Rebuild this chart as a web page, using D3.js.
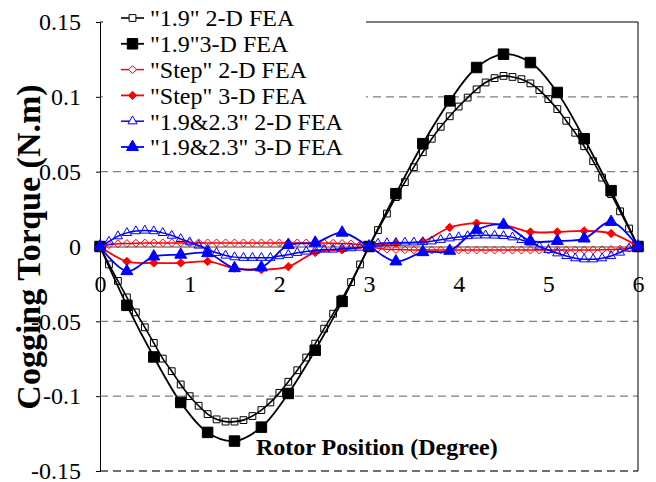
<!DOCTYPE html>
<html>
<head>
<meta charset="utf-8">
<title>Cogging torque</title>
<script src="https://d3js.org/d3.v7.min.js"></script>
<style>
  body { margin: 0; background: #fff; }
  svg text { font-family: "Liberation Serif", "Times New Roman", serif; fill: #000; }
  .tick text { font-size: 24px; }
  .axis-title { font-weight: bold; }
  .legend text { font-size: 24px; }
</style>
</head>
<body>
<div id="chart"></div>
<script>
// rotor position (degree)
const pos2D = [0,0.1,0.2,0.3,0.4,0.5,0.6,0.7,0.8,0.9,1,1.1,1.2,1.3,1.4,1.5,1.6,1.7,1.8,1.9,2,
  2.1,2.2,2.3,2.4,2.5,2.6,2.7,2.8,2.9,3,3.1,3.2,3.3,3.4,3.5,3.6,3.7,3.8,3.9,4,
  4.1,4.2,4.3,4.4,4.5,4.6,4.7,4.8,4.9,5,5.1,5.2,5.3,5.4,5.5,5.6,5.7,5.8,5.9,6];
const pos3D = [0,0.3,0.6,0.9,1.2,1.5,1.8,2.1,2.4,2.7,3,3.3,3.6,3.9,4.2,4.5,4.8,5.1,5.4,5.7,6];

// cogging torque (N.m)
const base2D = [0,-0.012,-0.023,-0.034,-0.044,-0.054,-0.0644,-0.0749,-0.0833,-0.0922,-0.1,
  -0.1064,-0.112,-0.1155,-0.117,-0.117,-0.116,-0.1133,-0.1093,-0.1042,-0.0978,
  -0.0904,-0.0827,-0.0742,-0.0649,-0.0549,-0.0449,-0.0349,-0.0238,-0.012,0,
  0.011,0.022,0.033,0.043,0.053,0.063,0.072,0.08,0.087,0.0935,
  0.0995,0.105,0.1096,0.1125,0.114,0.1133,0.1118,0.109,0.1045,0.0985,
  0.0918,0.084,0.076,0.067,0.057,0.046,0.035,0.0235,0.012,0];
const base3D = [0,-0.0393,-0.0738,-0.1042,-0.1242,-0.13,-0.1207,-0.0982,-0.0693,-0.0367,0,
  0.0353,0.0687,0.0973,0.1196,0.1285,0.1229,0.1029,0.072,0.0373,0];
const step2D = [0,0.0012,0.0018,0.002,0.0022,0.0023,0.0024,0.0024,0.0024,0.0024,0.0024,
  0.0024,0.0024,0.0024,0.0024,0.0024,0.0024,0.0024,0.0024,0.0024,0.0024,
  0.0024,0.0024,0.0024,0.0024,0.0023,0.0022,0.002,0.0018,0.0011,0,
  -0.0011,-0.0018,-0.002,-0.0022,-0.0023,-0.0024,-0.0024,-0.0024,-0.0024,-0.0024,
  -0.0024,-0.0024,-0.0024,-0.0024,-0.0024,-0.0024,-0.0024,-0.0024,-0.0024,-0.0024,
  -0.0024,-0.0024,-0.0024,-0.0024,-0.0023,-0.0022,-0.002,-0.0018,-0.0012,0];
const step3D = [0,-0.01,-0.011,-0.011,-0.01,-0.0145,-0.0155,-0.0135,-0.004,-0.0022,0,
  0.0023,0.0033,0.0127,0.0156,0.0144,0.0097,0.0097,0.0104,0.0087,0];
const dual2D = [0,0.0033,0.0069,0.0091,0.0103,0.0107,0.0103,0.0091,0.0073,0.0051,0.0029,
  0.0007,-0.002,-0.0042,-0.006,-0.0071,-0.0075,-0.0075,-0.0075,-0.0075,-0.0064,
  -0.0055,-0.0042,-0.0033,-0.0027,-0.002,-0.002,-0.0015,-0.0011,-0.0007,0,
  0.002,0.0023,0.0025,0.0027,0.0028,0.003,0.0035,0.0045,0.0055,0.0063,
  0.007,0.0074,0.0075,0.0074,0.0071,0.0062,0.0044,0.0027,0,-0.0023,
  -0.0045,-0.0063,-0.0078,-0.0085,-0.0085,-0.0078,-0.0063,-0.004,-0.0013,0];
const dual3D = [0,-0.0165,-0.0067,-0.0055,-0.0045,-0.0145,-0.014,0.001,0.0025,0.0092,0,
  -0.01,-0.0038,-0.0029,0.0111,0.0145,0.0037,0.0037,0.0053,0.0164,0];

const seriesNames = ['"1.9" 2-D FEA', '"1.9"3-D FEA', '"Step" 2-D FEA', '"Step" 3-D FEA',
  '"1.9&2.3" 2-D FEA', '"1.9&2.3" 3-D FEA'];
const xTicks = [0, 1, 2, 3, 4, 5, 6];
const yTicks = [-0.15, -0.1, -0.05, 0, 0.05, 0.1, 0.15];

const width = 656, height = 482;

// square diamond (Excel style)
const diamond = {
  draw(ctx, size) {
    const r = Math.sqrt(size) / 2 * 1.25;
    ctx.moveTo(0, -r); ctx.lineTo(r, 0); ctx.lineTo(0, r); ctx.lineTo(-r, 0); ctx.closePath();
  }
};

const series = [
  {name: seriesNames[0], xs: pos2D, ys: base2D, color: '#000', sym: d3.symbolSquare, size: 46, fill: 'none', lw: 1.6},
  {name: seriesNames[1], xs: pos3D, ys: base3D, color: '#000', sym: d3.symbolSquare, size: 110, fill: '#000', lw: 1.8},
  {name: seriesNames[2], xs: pos2D, ys: step2D, color: '#ff0000', sym: diamond, size: 40, fill: 'none', lw: 1.5},
  {name: seriesNames[3], xs: pos3D, ys: step3D, color: '#ff0000', sym: diamond, size: 44, fill: '#ff0000', lw: 1.8},
  {name: seriesNames[4], xs: pos2D, ys: dual2D, color: '#0000ff', sym: d3.symbolTriangle, size: 36, fill: 'none', lw: 1.5},
  {name: seriesNames[5], xs: pos3D, ys: dual3D, color: '#0000ff', sym: d3.symbolTriangle, size: 62, fill: '#0000ff', lw: 1.8}
];

const svg = d3.select('#chart').append('svg')
  .attr('width', width)
  .attr('height', height);

const x = d3.scaleLinear().domain([0, 6]).range([100, 638]);
const y = d3.scaleLinear().domain([-0.15, 0.15]).range([471, 22]);

// grid
svg.append('g').selectAll('line')
  .data(yTicks.filter(d => d !== 0 && d !== 0.15))
  .join('line')
  .attr('x1', x(0)).attr('x2', x(6))
  .attr('y1', d => y(d)).attr('y2', d => y(d))
  .attr('stroke', d => d === -0.15 ? '#404040' : '#808080')
  .attr('stroke-width', d => d === -0.15 ? 1.5 : 1.2)
  .attr('stroke-dasharray', '8,5');

// frame
svg.append('line').attr('x1', x(0)).attr('x2', x(6)).attr('y1', y(0.15)).attr('y2', y(0.15))
  .attr('stroke', '#000');
svg.append('line').attr('x1', x(6)).attr('x2', x(6)).attr('y1', y(0.15)).attr('y2', y(-0.15))
  .attr('stroke', '#000');

// y axis
const yAxis = svg.append('g')
  .attr('transform', `translate(${x(0)},0)`)
  .call(d3.axisLeft(y).tickValues(yTicks).tickSize(4).tickPadding(15)
    .tickFormat(d => String(+d.toFixed(2))));
yAxis.select('.domain').attr('stroke', '#000');

// x axis through zero
const xAxis = svg.append('g')
  .attr('transform', `translate(0,${y(0)})`)
  .call(d3.axisBottom(x).tickValues(xTicks).tickSizeInner(-5).tickSizeOuter(0).tickPadding(28)
    .tickFormat(d3.format('d')));
xAxis.select('.domain').attr('stroke', '#808080').attr('stroke-width', 1.5);
xAxis.selectAll('.tick line').attr('stroke', '#808080');
[yAxis, xAxis].forEach(a => a.attr('font-family', null).attr('font-size', null));

// series
const line = d3.line().curve(d3.curveCatmullRom.alpha(0.5));
series.forEach(s => {
  const pts = s.xs.map((v, i) => [x(v), y(s.ys[i])]);
  svg.append('path')
    .attr('d', line(pts))
    .attr('fill', 'none')
    .attr('stroke', s.color)
    .attr('stroke-width', s.lw);
  svg.append('g').selectAll('path')
    .data(pts)
    .join('path')
    .attr('transform', d => `translate(${d[0]},${d[1]})`)
    .attr('d', d3.symbol().type(s.sym).size(s.size))
    .attr('fill', s.fill === 'none' ? '#fff' : s.fill)
    .attr('fill-opacity', s.fill === 'none' ? 0 : 1)
    .attr('stroke', s.color)
    .attr('stroke-width', 1);
});

// legend
const legend = svg.append('g').attr('class', 'legend');
legend.append('rect')
  .attr('x', 103).attr('y', 0).attr('width', 263).attr('height', 163)
  .attr('fill', '#fff');
series.forEach((s, i) => {
  const ly = 18 + i * 25.8;
  const g = legend.append('g').attr('transform', `translate(0,${ly})`);
  g.append('line').attr('x1', 121).attr('x2', 144).attr('y1', 0).attr('y2', 0)
    .attr('stroke', s.color).attr('stroke-width', s.lw);
  g.append('path')
    .attr('transform', 'translate(132.5,0)')
    .attr('d', d3.symbol().type(s.sym).size(s.size))
    .attr('fill', s.fill === 'none' ? '#fff' : s.fill)
    .attr('stroke', s.color).attr('stroke-width', 1);
  g.append('text').attr('x', 150).attr('y', 0).attr('dy', '0.35em').text(s.name);
});

// axis titles
svg.append('text')
  .attr('class', 'axis-title')
  .attr('font-size', 34)
  .attr('transform', 'translate(40,247) rotate(-90)')
  .attr('text-anchor', 'middle')
  .text('Cogging Torque (N.m)');
svg.append('text')
  .attr('class', 'axis-title')
  .attr('font-size', 24)
  .attr('x', 256).attr('y', 455)
  .text('Rotor Position (Degree)');
</script>
</body>
</html>
